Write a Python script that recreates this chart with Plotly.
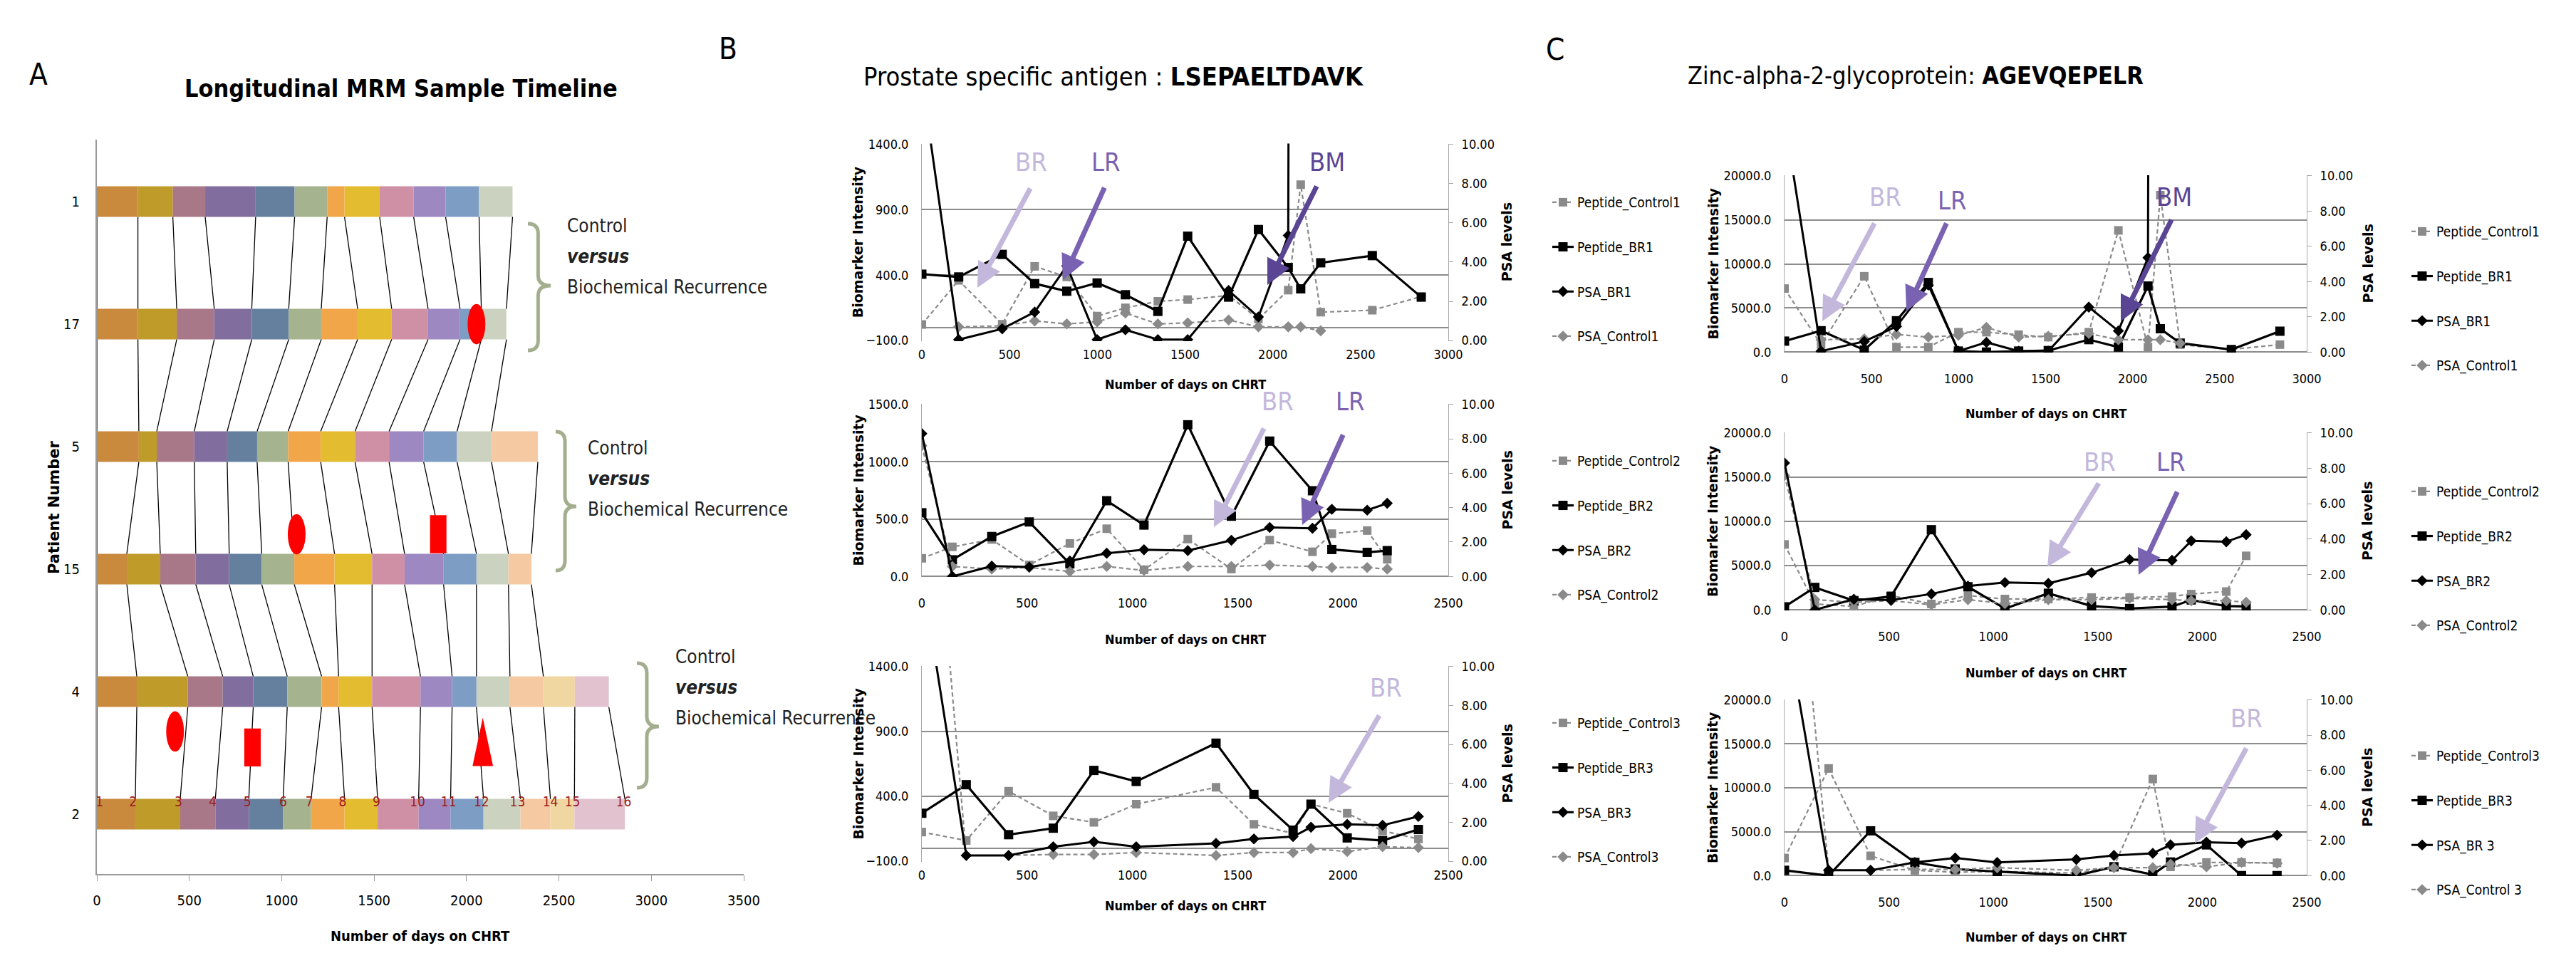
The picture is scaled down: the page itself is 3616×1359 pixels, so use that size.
import plotly.graph_objects as go

W, H = 3616, 1359
NARROW = "Liberation Sans Narrow, Arial Narrow, DejaVu Sans Condensed, sans-serif"
VERD = "DejaVu Sans, Verdana, sans-serif"

# ---------------- Panel A data (sample timeline) ----------------
patient_ids = ["1", "17", "5", "15", "4", "2"]
bounds_p1 = [0, 222, 411, 586, 859, 1070, 1246, 1340, 1530, 1714, 1887, 2068, 2249]
bounds_p17 = [0, 222, 432, 635, 838, 1038, 1214, 1411, 1595, 1792, 1965, 2080, 2216]
bounds_p5 = [0, 227, 324, 527, 705, 867, 1035, 1211, 1397, 1581, 1768, 1949, 2135, 2386]
bounds_p15 = [0, 162, 343, 535, 716, 892, 1068, 1286, 1489, 1665, 1876, 2054, 2227, 2351]
bounds_p4 = [0, 216, 492, 681, 846, 1030, 1216, 1308, 1489, 1751, 1922, 2054, 2235, 2416, 2586, 2770]
bounds_p2 = [0, 208, 451, 641, 822, 1008, 1159, 1340, 1519, 1741, 1914, 2092, 2292, 2454, 2584, 2857]
seg_colors = ["#C98A3E", "#BF9B2A", "#A97888", "#826E9E", "#65809E", "#A5B38F", "#F1A64A",
              "#E3BC30", "#CF90A6", "#9D88C2", "#7E9DC4", "#CBD3C0", "#F5C9A2", "#F0D7A2", "#E1C2CE"]
event_patient = ["17", "15", "15", "2", "2", "2"]
event_day = [2054, 1081, 1847, 423, 842, 2088]
event_kind = ["ellipse", "ellipse", "rect", "ellipse", "rect", "triangle"]
sample_numbers = ["1", "2", "3", "4", "5", "6", "7", "8", "9", "10", "11", "12", "13", "14", "15", "16"]
sample_label_days = [14, 195, 441, 627, 814, 1008, 1149, 1330, 1513, 1735, 1903, 2081, 2276, 2454, 2573, 2851]

# ---------------- Panels B / C data ----------------
days1 = [0, 210, 458, 643, 826, 999, 1160, 1345, 1515, 1748, 1918, 2088, 2159, 2273, 2567, 2846]
days1_psa = [0, 210, 458, 643, 826, 999, 1160, 1345, 1515, 1748, 1918, 2088, 2095]
days1_psactrl = [210, 458, 643, 826, 999, 1160, 1345, 1515, 1748, 1918, 2088, 2159, 2273]
days2 = [0, 145, 332, 510, 703, 878, 1055, 1263, 1470, 1652, 1855, 1947, 2115, 2210]
days3 = [0, 211, 412, 624, 817, 1018, 1397, 1577, 1763, 1848, 2020, 2188, 2358]

psa_br1 = [13.3, 0.05, 0.6, 1.45, 3.8, 0.05, 0.55, 0.05, 0.05, 2.55, 1.2, 5.35, 30.0]
psa_ctrl1 = [0.7, 0.75, 1.0, 0.85, 0.95, 1.4, 0.85, 0.9, 1.05, 0.7, 0.7, 0.7, 0.5]
psa_br2 = [8.3, 0.0, 0.6, 0.55, 0.9, 1.35, 1.55, 1.5, 2.1, 2.85, 2.8, 3.9, 3.85, 4.25]
psa_ctrl2 = [7.6, 0.58, 0.43, 0.52, 0.29, 0.58, 0.35, 0.58, 0.58, 0.66, 0.58, 0.52, 0.52, 0.43]
psa_br3 = [14.8, 0.3, 0.3, 0.75, 1.0, 0.75, 0.92, 1.15, 1.27, 1.75, 1.9, 1.85, 2.3]
psa_ctrl3 = [26.9, 0.3, 0.3, 0.35, 0.35, 0.45, 0.3, 0.45, 0.45, 0.65, 0.5, 0.75, 0.7]

lsep_br1 = [407, 386, 558, 335, 277, 340, 250, 123, 697, 232, 748, 458, 295, 494, 549, 232]
lsep_ctrl1 = [23, 360, 25, 467, 386, 87, 150, 200, 213, 245, 65, 285, 1090, 117, 132, 236]
lsep_br2 = [555, 145, 348, 475, 110, 660, 448, 1322, 525, 1180, 747, 235, 210, 225]
lsep_ctrl2 = [158, 258, 322, 100, 288, 416, 58, 326, 65, 317, 215, 373, 400, 150]
lsep_br3 = [270, 490, 105, 155, 600, 515, 810, 415, 140, 340, 80, 60, 145]
lsep_ctrl3 = [125, 60, 440, 250, 200, 340, 470, 185, 115, 340, 270, 135, 72]

agev_br1 = [1240, 2420, 225, 3550, 7890, 113, 0, 113, 169, 1409, 563, 7490, 2648, 1014, 282, 2366]
agev_ctrl1 = [7200, 845, 8600, 563, 563, 2254, 2254, 1972, 1690, 2254, 13800, 563, 17800, 845, 300, 845]
agev_br2 = [350, 2540, 1045, 1515, 9060, 2620, 150, 1880, 435, 160, 370, 1120, 435, 395]
agev_ctrl2 = [7395, 672, 392, 1625, 672, 1625, 1232, 1232, 1400, 1400, 1513, 1793, 2073, 6106]
agev_br3 = [600, 0, 5100, 1500, 750, 450, 0, 1000, 120, 1550, 3500, 0, 0]
agev_ctrl3 = [2000, 12200, 2250, 600, 380, 480, 280, 1050, 11000, 1000, 1500, 1500, 1450]


def px(x):
    return x / W


def py(y):
    return 1 - y / H


def label(x, y, text, size, family=NARROW, color="black", angle=0, xanchor="center"):
    return dict(x=px(x), y=py(y), xref="paper", yref="paper", text=text, showarrow=False,
                xanchor=xanchor, yanchor="middle", textangle=angle,
                font=dict(family=family, size=size, color=color))


fig = go.Figure()
shapes, annos = [], []

# ---------------- Panel A ----------------
rows_bounds = [bounds_p1, bounds_p17, bounds_p5, bounds_p15, bounds_p4, bounds_p2]
row_level = [5, 4, 3, 2, 1, 0]
BAR_H = 0.25
cx, cy = [], []
for r in range(len(rows_bounds) - 1):
    bu, bl = rows_bounds[r], rows_bounds[r + 1]
    for k in range(min(len(bu), len(bl))):
        cx += [bu[k], bl[k], None]
        cy += [row_level[r] - BAR_H / 2, row_level[r + 1] + BAR_H / 2, None]
fig.add_trace(go.Scatter(x=cx, y=cy, mode="lines", line=dict(color="black", width=1.3),
                         showlegend=False, hoverinfo="skip", xaxis="x", yaxis="y"))
for k in range(len(seg_colors)):
    ys, xs, bs = [], [], []
    for r, b in enumerate(rows_bounds):
        if k < len(b) - 1:
            ys.append(row_level[r])
            bs.append(b[k])
            xs.append(b[k + 1] - b[k])
    fig.add_trace(go.Bar(y=ys, x=xs, base=bs, orientation="h", width=BAR_H,
                         marker=dict(color=seg_colors[k], line=dict(width=0)),
                         showlegend=False, xaxis="x", yaxis="y"))

fig.add_trace(go.Scatter(x=sample_label_days, y=[row_level[-1] + 0.09] * len(sample_label_days),
                         mode="text", text=sample_numbers,
                         textfont=dict(color="#9B1C1C", size=19, family=NARROW),
                         showlegend=False, xaxis="x", yaxis="y"))

ev_w = {"ellipse": 96, "rect": 89, "triangle": 111}
ev_h = {"ellipse": 0.33, "rect": 0.31, "triangle": 0.395}
ev_lift = [0.0, 0.285, 0.285, 0.675, 0.545, 0.59]
for p, d, kind, lift in zip(event_patient, event_day, event_kind, ev_lift):
    yc = row_level[patient_ids.index(p)] + lift
    w, h = ev_w[kind], ev_h[kind]
    if kind == "ellipse":
        shapes.append(dict(type="circle", xref="x", yref="y", x0=d - w / 2, x1=d + w / 2,
                           y0=yc - h / 2, y1=yc + h / 2, fillcolor="#FF0000", line=dict(width=0)))
    elif kind == "rect":
        shapes.append(dict(type="rect", xref="x", yref="y", x0=d - w / 2, x1=d + w / 2,
                           y0=yc - h / 2, y1=yc + h / 2, fillcolor="#FF0000", line=dict(width=0)))
    else:
        shapes.append(dict(type="path", xref="x", yref="y",
                           path=f"M {d - w / 2},{yc - h / 2} L {d},{yc + h / 2} L {d + w / 2},{yc - h / 2} Z",
                           fillcolor="#FF0000", line=dict(width=0)))

layout_axes = {}
layout_axes["xaxis"] = dict(domain=[px(128), px(1036)], anchor="y", range=[0, 3500],
                            tickvals=[0, 500, 1000, 1500, 2000, 2500, 3000, 3500],
                            ticks="outside", ticklen=8, tickcolor="#9A9A9A", showline=True,
                            linecolor="#9A9A9A", linewidth=2, showgrid=False, zeroline=False,
                            tickfont=dict(family=NARROW, size=20, color="black"), ticklabelstandoff=10)
layout_axes["yaxis"] = dict(domain=[py(1219), py(188)], anchor="x", range=[-0.488, 5.506],
                            tickvals=row_level, ticktext=patient_ids, ticks="", showline=True,
                            linecolor="#9A9A9A", linewidth=2, showgrid=False, zeroline=False,
                            tickfont=dict(family=NARROW, size=20, color="black"), ticklabelstandoff=18)


def brace(xl, xt, yt, yb, ym, r=14):
    xm = xl + (xt - xl) * 0.45
    pts = f"M {px(xl)},{py(yt)} Q {px(xm)},{py(yt)} {px(xm)},{py(yt + r)} L {px(xm)},{py(ym - r)} " \
          f"Q {px(xm)},{py(ym)} {px(xt)},{py(ym)} Q {px(xm)},{py(ym)} {px(xm)},{py(ym + r)} " \
          f"L {px(xm)},{py(yb - r)} Q {px(xm)},{py(yb)} {px(xl)},{py(yb)}"
    return dict(type="path", xref="paper", yref="paper", path=pts,
                line=dict(color="#A3AE8F", width=5))


for (xl, xt, yt, yb, ym), (tx, ty) in zip(
        [(733, 765, 306, 484, 393), (772, 801, 598, 793, 703), (886, 917, 923, 1098, 1012)],
        [(786, 309), (815, 621), (938, 914)]):
    shapes.append(brace(xl, xt, yt, yb, ym))
    for i, t in enumerate(["Control", "<b><i>versus</i></b>", "Biochemical Recurrence"]):
        annos.append(label(tx, ty + i * 43, t, 26, color="#222", xanchor="left"))

# ---------------- Panels B / C ----------------
BX, CX = (1286, 2025), (2497, 3230)
charts = [
    dict(xd=BX, yd=(193.5, 471), xmax=3000, yr=(-100, 1400), ytv=[-100, 400, 900, 1400],
         d_pep=days1, ctrl=lsep_ctrl1, br=lsep_br1, d_psa=days1_psa, psabr=psa_br1,
         d_psac=days1_psactrl, psac=psa_ctrl1, leg_y=283, sfx=("BR1", "Control1"), xt=531),
    dict(xd=BX, yd=(559, 802), xmax=2500, yr=(0, 1500), ytv=[0, 500, 1000, 1500],
         d_pep=days2, ctrl=lsep_ctrl2, br=lsep_br2, d_psa=days2, psabr=psa_br2,
         d_psac=days2, psac=psa_ctrl2, leg_y=646, sfx=("BR2", "Control2"), xt=889),
    dict(xd=BX, yd=(927, 1202), xmax=2500, yr=(-100, 1400), ytv=[-100, 400, 900, 1400],
         d_pep=days3, ctrl=lsep_ctrl3, br=lsep_br3, d_psa=days3, psabr=psa_br3,
         d_psac=days3, psac=psa_ctrl3, leg_y=1014, sfx=("BR3", "Control3"), xt=1263),
    dict(xd=CX, yd=(238, 487), xmax=3000, yr=(0, 20000), ytv=[0, 5000, 10000, 15000, 20000],
         d_pep=days1, ctrl=agev_ctrl1, br=agev_br1, d_psa=days1_psa, psabr=psa_br1,
         d_psac=days1_psactrl, psac=psa_ctrl1, leg_y=324, sfx=("BR1", "Control1"), xt=573),
    dict(xd=CX, yd=(599, 849), xmax=2500, yr=(0, 20000), ytv=[0, 5000, 10000, 15000, 20000],
         d_pep=days2, ctrl=agev_ctrl2, br=agev_br2, d_psa=days2, psabr=psa_br2,
         d_psac=days2, psac=psa_ctrl2, leg_y=689, sfx=("BR2", "Control2"), xt=936),
    dict(xd=CX, yd=(974, 1222), xmax=2500, yr=(0, 20000), ytv=[0, 5000, 10000, 15000, 20000],
         d_pep=days3, ctrl=agev_ctrl3, br=agev_br3, d_psa=days3, psabr=psa_br3,
         d_psac=days3, psac=psa_ctrl3, leg_y=1060, sfx=("BR 3", "Control 3"), xt=1307),
]

GRID = "#8C8C8C"
GRAY = "#8A8A8A"
tickf = dict(family=NARROW, size=18, color="black")
for i, c in enumerate(charts):
    xi, yl, yr = i + 2, 2 * i + 2, 2 * i + 3
    xa, ya_l, ya_r = f"x{xi}", f"y{yl}", f"y{yr}"
    leg = f"legend{i + 2}"
    y0, y1 = c["yr"]
    eps = (y1 - y0) * 0.003
    layout_axes[f"xaxis{xi}"] = dict(domain=[px(c["xd"][0]), px(c["xd"][1])], anchor=ya_l,
                                     range=[0, c["xmax"]], dtick=500, tick0=0, showgrid=False,
                                     showline=False, zeroline=False, ticks="", tickfont=tickf,
                                     ticklabelstandoff=(6 if y0 < 0 else 24))
    layout_axes[f"yaxis{yl}"] = dict(domain=[py(c["yd"][1]), py(c["yd"][0])], anchor=xa,
                                     range=[y0 - eps, y1 + eps], tickvals=c["ytv"], tickformat=".1f",
                                     showgrid=True, gridcolor=GRID, gridwidth=2,
                                     zeroline=True, zerolinecolor=GRID, zerolinewidth=2,
                                     showline=True, linecolor="#A8A8A8", linewidth=1, ticks="",
                                     tickfont=tickf, ticklabelstandoff=14)
    layout_axes[f"yaxis{yr}"] = dict(domain=[py(c["yd"][1]), py(c["yd"][0])], anchor=xa,
                                     overlaying=ya_l, side="right", range=[-10 * 0.003, 10 + 10 * 0.003],
                                     tickvals=[0, 2, 4, 6, 8, 10], tickformat=".2f", showgrid=False,
                                     zeroline=False, showline=True, linecolor="#A8A8A8", linewidth=1,
                                     ticks="outside", ticklen=6, tickcolor="#A8A8A8",
                                     tickfont=tickf, ticklabelstandoff=8)
    lx = 2166 if c["xd"] == BX else 3372
    layout_axes[leg] = dict(x=px(lx), y=py(c["leg_y"] - 26), xanchor="left", yanchor="top",
                            bgcolor="rgba(0,0,0,0)", font=dict(family=NARROW, size=19, color="black"),
                            tracegroupgap=35, itemwidth=30)
    sb, sc = c["sfx"]
    fig.add_trace(go.Scatter(x=c["d_pep"], y=c["ctrl"], name=f"Peptide_{sc.replace(' ', '')}",
                             mode="lines+markers", line=dict(color=GRAY, width=2.2, dash="6px,4px"),
                             marker=dict(symbol="square", size=12, color=GRAY), xaxis=xa, yaxis=ya_l,
                             legend=leg, legendgroup=f"{i}a", legendrank=1))
    fig.add_trace(go.Scatter(x=c["d_pep"], y=c["br"], name=f"Peptide_{sb.replace(' ', '')}",
                             mode="lines+markers", line=dict(color="black", width=3.2),
                             marker=dict(symbol="square", size=13, color="black"), xaxis=xa, yaxis=ya_l,
                             legend=leg, legendgroup=f"{i}b", legendrank=2))
    fig.add_trace(go.Scatter(x=c["d_psac"], y=c["psac"], name=f"PSA_{sc}",
                             mode="lines+markers", line=dict(color=GRAY, width=2.2, dash="6px,4px"),
                             marker=dict(symbol="diamond", size=12, color=GRAY), xaxis=xa, yaxis=ya_r,
                             legend=leg, legendgroup=f"{i}d", legendrank=4))
    fig.add_trace(go.Scatter(x=c["d_psa"], y=c["psabr"], name=f"PSA_{sb}",
                             mode="lines+markers", line=dict(color="black", width=3.0),
                             marker=dict(symbol="diamond", size=12, color="black"), xaxis=xa, yaxis=ya_r,
                             legend=leg, legendgroup=f"{i}c", legendrank=3))
    ymid = (c["yd"][0] + c["yd"][1]) / 2
    xl_t = 1196 if c["xd"] == BX else 2396
    xr_t = 2107 if c["xd"] == BX else 3315
    annos.append(label(xl_t, ymid, "<b>Biomarker Intensity</b>", 19, family=VERD, angle=-90))
    annos.append(label(xr_t, ymid, "<b>PSA levels</b>", 19, family=VERD, angle=-90))
    annos.append(label((c["xd"][0] + c["xd"][1]) / 2, c["xt"], "<b>Number of days on CHRT</b>", 18))

# panel A axis titles
annos.append(label(582, 1306, "<b>Number of days on CHRT</b>", 20))
annos.append(label(68, 705, "<b>Patient Number</b>", 21, family=VERD, angle=-90))

# panel letters and titles
for t, x, y in [("A", 46, 96), ("B", 1014, 60), ("C", 2175, 62)]:
    annos.append(label(x, y, t, 42))
annos.append(label(555, 116, "<b>Longitudinal MRM Sample Timeline</b>", 34))
annos.append(label(1555, 100, "Prostate specific antigen : <b>LSEPAELTDAVK</b>", 36))
annos.append(label(2681, 98, "Zinc-alpha-2-glycoprotein: <b>AGEVQEPELR</b>", 34))

# event arrows (BR / LR / BM)
ARROW_COL = {"BR": "#C3B8DC", "LR": "#7A62B2", "BM": "#5A4595"}
arrows = [
    ("BR", (1439, 220), (1439, 255), (1364, 396)),
    ("LR", (1544, 220), (1543, 254), (1484, 385)),
    ("BM", (1855, 220), (1841, 252), (1771, 392)),
    ("BR", (1785, 555), (1767, 592), (1696, 732)),
    ("LR", (1887, 555), (1878, 601), (1820, 729)),
    ("BR", (1937, 957), (1929, 995), (1857, 1119)),
    ("BR", (2638, 268), (2624, 304), (2550, 443)),
    ("LR", (2732, 273), (2725, 304), (2668, 429)),
    ("BM", (3044, 268), (3041, 299), (2969, 443)),
    ("BR", (2939, 640), (2939, 669), (2866, 788)),
    ("LR", (3039, 640), (3049, 681), (2994, 799)),
    ("BR", (3145, 1001), (3146, 1041), (3073, 1176)),
]
for lab, tpos, tail, head in arrows:
    col = ARROW_COL[lab]
    annos.append(label(tpos[0], tpos[1], lab, 36, color=col))
    annos.append(dict(x=px(head[0]), y=py(head[1]), xref="paper", yref="paper", text="",
                      showarrow=True, ax=tail[0] - head[0], ay=tail[1] - head[1],
                      arrowcolor=col, arrowwidth=7, arrowhead=2, arrowsize=1.0, standoff=0))

fig.update_layout(
    width=W, height=H, margin=dict(l=0, r=0, t=0, b=0), template="none",
    paper_bgcolor="white", plot_bgcolor="rgba(0,0,0,0)", barmode="overlay",
    font=dict(family=NARROW, color="black"), shapes=shapes, annotations=annos,
    showlegend=True, **layout_axes,
)
fig.write_html("out.html")
